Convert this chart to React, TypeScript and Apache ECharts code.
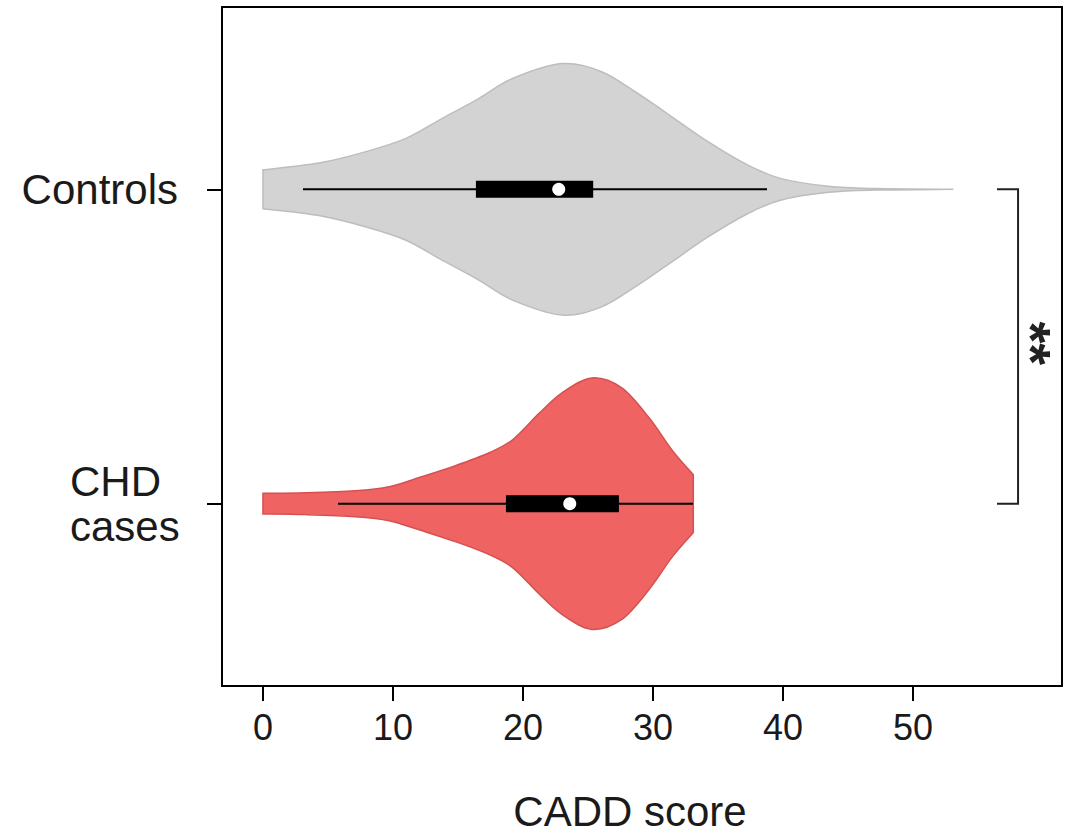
import React, { useEffect, useRef } from "react";
import * as echarts from "echarts";

// ---- Data ----
const categories = ["CHD\ncases", "Controls"];
const positions = [1, 2];

// Violin density profiles (score, relative half-width; max = 1)
const chdScores = [0, 3.3, 7.1, 9.7, 12.2, 14.8, 17.4, 19.2, 21.2, 23.0, 25.3, 27.6, 29.7, 31.5, 33.1];
const chdDensity = [0.082, 0.087, 0.103, 0.135, 0.214, 0.302, 0.405, 0.508, 0.714, 0.881, 1.0, 0.921, 0.683, 0.421, 0.23];
const controlScores = [0, 4.3, 8.0, 11.0, 13.6, 16.6, 19.2, 23.0, 26.0, 28.6, 31.2, 34.2, 37.2, 39.8, 43.5, 47.2, 53.1];
const controlDensity = [0.155, 0.209, 0.302, 0.405, 0.553, 0.722, 0.881, 1.0, 0.937, 0.778, 0.595, 0.381, 0.198, 0.087, 0.024, 0.006, 0];

// Box-plot statistics [CHD, Controls]
const whiskerLow = [5.77, 3.08];
const q1 = [18.69, 16.38];
const median = [23.6, 22.75];
const q3 = [27.38, 25.4];
const whiskerHigh = [33.08, 38.77];

const xTicks = [0, 10, 20, 30, 40, 50];

// Significance bracket: [bracket left, bracket spine, label x, from pos, to pos]
const sigBracket = [56.46, 58.08, 59.1, 1, 2];
const sigLabel = "**";

const violinScores = [chdScores, controlScores];
const violinDensity = [chdDensity, controlDensity];
const fills = ["#EF6363", "#D3D3D3"];
const strokes = ["#D65050", "#BDBDBD"];
const VIOLIN_HALF = 0.4;

const FONT = "'Liberation Sans', Arial, Helvetica, sans-serif";

function catmull(pts: number[][]): string {
  let d = "";
  for (let i = 0; i < pts.length - 1; i++) {
    const p0 = pts[i - 1] || pts[i];
    const p1 = pts[i];
    const p2 = pts[i + 1];
    const p3 = pts[i + 2] || p2;
    const c1 = [p1[0] + (p2[0] - p0[0]) / 6, p1[1] + (p2[1] - p0[1]) / 6];
    const c2 = [p2[0] - (p3[0] - p1[0]) / 6, p2[1] - (p3[1] - p1[1]) / 6];
    d += ` C${c1[0]},${c1[1]} ${c2[0]},${c2[1]} ${p2[0]},${p2[1]}`;
  }
  return d;
}

export default function App() {
  const ref = useRef<HTMLDivElement>(null);
  useEffect(() => {
    if (!ref.current) return;
    const chart = echarts.init(ref.current, null, { renderer: "svg" });

    const renderViolin = (params: any, api: any) => {
      const i = params.dataIndex;
      const yc = positions[i];
      const xs = violinScores[i];
      const ds = violinDensity[i];
      const top = xs.map((x, k) => api.coord([x, yc + ds[k] * VIOLIN_HALF]));
      const bot = xs.map((x, k) => api.coord([x, yc - ds[k] * VIOLIN_HALF])).reverse();
      let d = `M${top[0][0]},${top[0][1]}` + catmull(top);
      d += ` L${bot[0][0]},${bot[0][1]}` + catmull(bot) + " Z";
      const wl = api.coord([whiskerLow[i], yc]);
      const wh = api.coord([whiskerHigh[i], yc]);
      const b1 = api.coord([q1[i], yc]);
      const b3 = api.coord([q3[i], yc]);
      const m = api.coord([median[i], yc]);
      const bh = 17;
      return {
        type: "group",
        children: [
          {
            type: "path",
            shape: { pathData: d },
            style: { fill: fills[i], stroke: strokes[i], lineWidth: 1.5 },
          },
          {
            type: "line",
            shape: { x1: wl[0], y1: wl[1], x2: wh[0], y2: wh[1] },
            style: { stroke: "#000", lineWidth: 2 },
          },
          {
            type: "rect",
            shape: { x: b1[0], y: b1[1] - bh / 2, width: b3[0] - b1[0], height: bh },
            style: { fill: "#000" },
          },
          {
            type: "circle",
            shape: { cx: m[0], cy: m[1], r: 6.5 },
            style: { fill: "#fff" },
          },
        ],
      };
    };

    const renderSig = (params: any, api: any) => {
      const [xl, xs, xt, ya, yb] = sigBracket;
      const p1 = api.coord([xl, yb]);
      const p2 = api.coord([xs, yb]);
      const p3 = api.coord([xs, ya]);
      const p4 = api.coord([xl, ya]);
      const t = api.coord([xt, (ya + yb) / 2 + 0.01]);
      return {
        type: "group",
        children: [
          {
            type: "polyline",
            shape: { points: [p1, p2, p3, p4] },
            style: { stroke: "#222", lineWidth: 2, fill: null },
          },
          {
            type: "text",
            x: t[0],
            y: t[1],
            rotation: -Math.PI / 2,
            style: {
              text: sigLabel,
              fontSize: 56,
              fontWeight: "bold",
              fontFamily: FONT,
              align: "center",
              verticalAlign: "middle",
              fill: "#222",
            },
          },
        ],
      };
    };

    chart.setOption({
      animation: false,
      backgroundColor: "#fff",
      grid: {
        left: 222,
        right: 15,
        top: 7,
        bottom: 153,
        show: true,
        borderColor: "#000",
        borderWidth: 2,
        containLabel: false,
        outerBoundsMode: "none",
      },
      xAxis: {
        type: "value",
        min: -3.15,
        max: 61.46,
        splitLine: { show: false },
        axisLine: { show: true, onZero: false, lineStyle: { color: "#000", width: 2 } },
        axisTick: { show: true, customValues: xTicks, length: 15, lineStyle: { color: "#000", width: 2 } },
        axisLabel: {
          customValues: xTicks,
          fontSize: 36,
          fontFamily: FONT,
          color: "#1a1a1a",
          margin: 23,
        },
        name: "CADD score",
        nameLocation: "middle",
        nameGap: 104,
        nameTextStyle: { fontSize: 42, fontFamily: FONT, color: "#1a1a1a", padding: [0, 24, 0, 0] },
      },
      yAxis: {
        type: "value",
        min: 0.42,
        max: 2.58,
        splitLine: { show: false },
        axisLine: { show: true, onZero: false, lineStyle: { color: "#000", width: 2 } },
        axisTick: { show: true, customValues: positions, length: 15, lineStyle: { color: "#000", width: 2 } },
        axisLabel: {
          customValues: positions,
          margin: 44,
          fontSize: 42,
          fontFamily: FONT,
          color: "#1a1a1a",
          formatter: (v: number) => {
            const idx = positions.indexOf(v);
            if (idx < 0) return "";
            const lines = categories[idx].split("\n");
            if (lines.length === 1) return lines[0];
            return lines.map((l) => `{l|${l}}`).join("\n");
          },
          rich: {
            l: { width: 108, align: "left", fontSize: 42, lineHeight: 45, fontFamily: FONT, color: "#1a1a1a" },
          },
        },
      },
      series: [
        {
          type: "custom",
          name: "violins",
          renderItem: renderViolin,
          data: positions.map((p, i) => [median[i], p]),
          encode: { x: 0, y: 1 },
          z: 2,
        },
        {
          type: "custom",
          name: "significance",
          renderItem: renderSig,
          data: [[sigBracket[1], 1.5]],
          encode: { x: 0, y: 1 },
          z: 3,
        },
      ],
    });
    return () => chart.dispose();
  }, []);

  return (
    <div
      ref={ref}
      style={{ position: "absolute", left: 0, top: 0, width: 1077, height: 839, background: "#fff" }}
    />
  );
}
